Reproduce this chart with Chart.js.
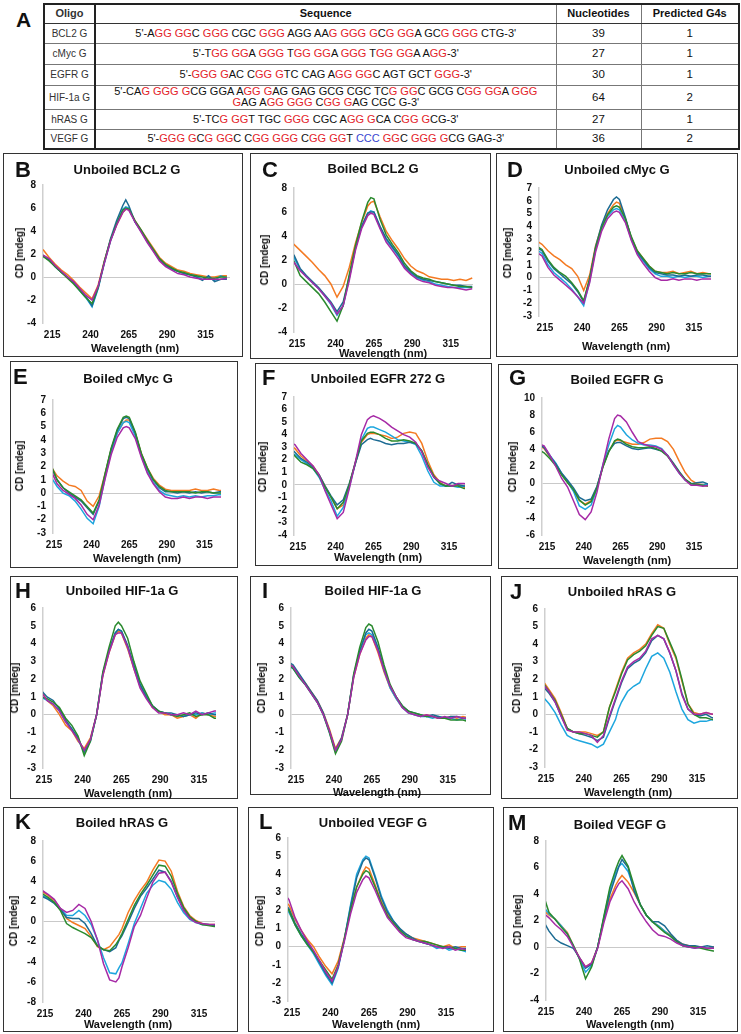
<!DOCTYPE html>
<html><head><meta charset="utf-8">
<script src="https://cdn.jsdelivr.net/npm/chart.js@4.4.1/dist/chart.umd.min.js"></script>
<style>
body{margin:0;width:741px;height:1034px;position:relative;background:#fff;font-family:"Liberation Sans",Arial,sans-serif;overflow:hidden}
.box{position:absolute;border:1.5px solid #333;box-sizing:border-box}
.cv{position:absolute}
.t{position:absolute;transform:translate(-50%,-50%);line-height:1;font-weight:bold;white-space:nowrap;color:#111}
.lt{position:absolute;transform:translate(0,-50%);line-height:1;font-weight:bold;font-size:22px;color:#111}
.yl{transform:translate(-50%,-50%) rotate(-90deg);font-size:10px}
.xl{font-size:11px}
.ti{font-size:13px}
#tbl{position:absolute;left:43px;top:3px;width:695px;border-collapse:collapse;table-layout:fixed;border:2px solid #222}
#tbl td,#tbl th{border:1px solid #777;padding:0;text-align:center;font-size:11px;color:#111;line-height:11px;white-space:nowrap}
#tbl th{font-weight:bold;font-size:11px;border-bottom:1.5px solid #333}
#tbl td:first-child,#tbl th:first-child{border-right:2px solid #222;color:#333}
#tbl td:first-child{font-size:10px}
#tbl td.n{font-size:11.5px}
.r{color:#E3232A}.bl{color:#3A45D0}
</style></head><body>
<div class="lt" style="left:16px;top:19px;font-size:21px">A</div>
<table id="tbl">
<colgroup><col style="width:51px"><col style="width:461px"><col style="width:85px"><col style="width:98px"></colgroup>
<tr style="height:19px"><th>Oligo</th><th>Sequence</th><th>Nucleotides</th><th>Predicted G4s</th></tr>
<tr style="height:20px"><td>BCL2 G</td><td>5'-A<span class="r">GG GG</span>C <span class="r">GGG</span> CGC <span class="r">GGG</span> AGG AA<span class="r">G GGG G</span>C<span class="r">G GG</span>A GC<span class="r">G GGG</span> CTG-3'</td><td class="n">39</td><td class="n">1</td></tr>
<tr style="height:21px"><td>cMyc G</td><td>5'-T<span class="r">GG GG</span>A <span class="r">GGG</span> T<span class="r">GG GG</span>A <span class="r">GGG</span> T<span class="r">GG GG</span>A A<span class="r">GG</span>-3'</td><td class="n">27</td><td class="n">1</td></tr>
<tr style="height:21px"><td>EGFR G</td><td>5'-<span class="r">GGG G</span>AC C<span class="r">GG G</span>TC CAG A<span class="r">GG GG</span>C AGT GCT <span class="r">GGG</span>-3'</td><td class="n">30</td><td class="n">1</td></tr>
<tr style="height:24px"><td>HIF-1a G</td><td>5'-CA<span class="r">G GGG G</span>CG GGA A<span class="r">GG G</span>AG GAG GCG CGC TC<span class="r">G GG</span>C GCG C<span class="r">GG GG</span>A <span class="r">GGG</span><br><span class="r">G</span>AG A<span class="r">GG GGG</span> C<span class="r">GG G</span>AG CGC G-3'</td><td class="n">64</td><td class="n">2</td></tr>
<tr style="height:20px"><td>hRAS G</td><td>5'-TC<span class="r">G GG</span>T TGC <span class="r">GGG</span> CGC A<span class="r">GG G</span>CA C<span class="r">GG G</span>CG-3'</td><td class="n">27</td><td class="n">1</td></tr>
<tr style="height:20px"><td>VEGF G</td><td>5'-<span class="r">GGG G</span>C<span class="r">G GG</span>C C<span class="r">GG GGG</span> C<span class="r">GG GG</span>T <span class="bl">CCC</span> <span class="r">GG</span>C <span class="r">GGG G</span>CG GAG-3'</td><td class="n">36</td><td class="n">2</td></tr>
</table>
<div id="root"></div>
<script>
// ---------- DATA ----------
const wavelengths = [209,213,217,221,225,229,233,237,241,245,249,253,257,261,263,265,269,273,277,281,285,289,293,297,301,305,309,313,317,321,325,329];
const xTickValues = [215,240,265,290,315];
const seriesNames = ['orange','teal','green','cyan','magenta'];

// B: Unboiled BCL2 G
const B_orange  = [2.4,1.7,1.1,0.6,0.2,-0.3,-0.9,-1.4,-1.9,-0.7,1.4,3.2,4.5,5.6,5.9,5.9,4.9,4.1,3.3,2.5,1.7,1.2,0.9,0.6,0.5,0.3,0.2,0.1,0.0,0.0,0.1,0.1];
const B_teal    = [1.9,1.5,0.9,0.4,0.0,-0.5,-1.1,-1.7,-2.5,-0.9,1.3,3.3,4.9,6.2,6.7,6.2,4.8,4.0,3.1,2.3,1.5,1.0,0.7,0.5,0.3,0.2,0.0,-0.3,0.1,-0.4,-0.2,-0.2];
const B_green   = [1.8,1.4,0.9,0.4,-0.1,-0.6,-1.2,-1.8,-2.3,-0.9,1.3,3.2,4.6,5.8,6.0,5.9,4.9,4.1,3.2,2.4,1.6,1.1,0.8,0.5,0.4,0.2,0.1,0.0,-0.1,-0.1,0.0,0.0];
const B_cyan    = [1.8,1.5,0.9,0.4,0.0,-0.5,-1.2,-1.8,-2.6,-1.0,1.2,3.1,4.6,5.9,6.1,6.0,4.8,4.0,3.1,2.3,1.5,1.0,0.7,0.5,0.3,0.2,0.1,-0.2,0.0,-0.3,0.1,-0.1];
const B_magenta = [1.9,1.6,1.0,0.5,0.0,-0.4,-1.0,-1.6,-2.0,-0.8,1.2,3.1,4.5,5.6,5.9,5.8,4.8,3.9,3.0,2.2,1.4,0.9,0.6,0.3,0.2,0.0,-0.1,-0.2,-0.2,-0.2,-0.2,-0.1];

// C: Boiled BCL2 G
const C_orange  = [3.6,3.3,2.8,2.3,1.8,1.2,0.7,0.0,-1.1,-0.2,1.4,3.4,5.1,6.5,6.8,6.9,5.6,4.4,3.6,2.9,2.1,1.5,1.1,0.9,0.6,0.5,0.4,0.4,0.3,0.4,0.3,0.5];
const C_teal    = [2.6,2.4,1.3,0.7,0.2,-0.3,-0.9,-1.5,-2.3,-1.5,0.6,3.0,4.8,5.9,6.0,6.0,4.8,3.8,3.1,2.4,1.5,1.0,0.6,0.4,0.3,0.2,0.1,0.0,-0.1,-0.1,-0.2,-0.2];
const C_green   = [2.0,1.9,0.7,0.2,-0.3,-0.8,-1.5,-2.3,-3.1,-1.8,0.8,3.2,5.2,6.8,7.2,7.1,5.4,4.1,3.3,2.6,1.7,1.1,0.7,0.5,0.4,0.2,0.1,0.0,-0.1,-0.2,-0.2,-0.3];
const C_cyan    = [2.4,2.2,1.2,0.6,0.1,-0.4,-1.0,-1.7,-2.6,-1.8,0.5,3.0,4.8,5.9,6.1,6.0,4.7,3.7,3.0,2.3,1.4,0.9,0.5,0.3,0.2,0.0,-0.1,-0.2,-0.3,-0.3,-0.3,-0.3];
const C_magenta = [2.0,1.8,1.1,0.6,0.1,-0.4,-1.0,-1.6,-2.5,-1.8,0.3,2.8,4.6,5.7,5.9,5.8,4.6,3.5,2.8,2.1,1.3,0.8,0.4,0.2,0.1,-0.1,-0.2,-0.3,-0.3,-0.4,-0.5,-0.4];

// D: Unboiled cMyc G
const D_orange  = [2.9,2.6,2.1,1.7,1.4,1.0,0.7,0.1,-1.0,0.2,2.5,4.0,5.0,5.7,5.9,5.8,4.6,3.1,2.1,1.5,0.9,0.5,0.4,0.4,0.5,0.3,0.4,0.5,0.3,0.4,0.3,0.3];
const D_teal    = [2.4,2.1,1.3,0.7,0.3,-0.1,-0.5,-1.1,-1.9,-0.1,2.4,4.1,5.3,6.1,6.3,6.1,4.7,3.1,2.0,1.4,0.8,0.4,0.3,0.2,0.2,0.1,0.2,0.1,0.2,0.2,0.1,0.1];
const D_green   = [2.5,2.2,1.4,0.8,0.4,0.1,-0.4,-1.0,-1.8,-0.1,2.3,3.9,4.9,5.5,5.6,5.5,4.6,3.2,2.1,1.5,0.9,0.5,0.4,0.3,0.4,0.3,0.3,0.4,0.3,0.3,0.3,0.3];
const D_cyan    = [2.2,1.9,1.0,0.4,0.0,-0.4,-0.9,-1.5,-2.2,-0.3,2.2,3.8,4.8,5.3,5.4,5.3,4.4,3.0,1.9,1.3,0.7,0.3,0.1,0.1,0.0,0.1,0.0,0.1,0.1,0.0,0.1,0.1];
const D_magenta = [2.0,1.7,0.8,0.2,-0.2,-0.6,-1.0,-1.5,-2.0,-0.4,2.0,3.6,4.6,5.1,5.2,5.1,4.3,2.9,1.8,1.1,0.5,0.0,-0.2,-0.2,-0.1,-0.2,-0.1,-0.1,-0.2,-0.1,-0.1,-0.1];

// E: Boiled cMyc G
const E_orange  = [2.2,2.0,1.3,0.9,0.6,0.5,0.2,-0.6,-1.0,-0.2,1.5,3.3,4.5,5.3,5.5,5.5,4.5,3.0,1.9,1.1,0.6,0.3,0.2,0.2,0.2,0.2,0.3,0.2,0.2,0.3,0.2,0.2];
const E_teal    = [2.2,2.0,1.0,0.4,0.0,-0.3,-0.6,-1.1,-1.6,-0.6,1.4,3.3,4.7,5.6,5.7,5.6,4.5,2.9,1.8,1.0,0.4,0.1,0.1,0.0,0.1,0.0,0.1,0.0,0.1,0.0,0.1,0.1];
const E_green   = [2.3,2.1,1.0,0.4,0.1,-0.2,-0.5,-1.0,-1.5,-0.5,1.5,3.4,4.8,5.7,5.8,5.7,4.6,3.0,1.9,1.0,0.5,0.2,0.1,0.1,0.1,0.1,0.0,0.1,0.1,0.0,0.0,0.0];
const E_cyan    = [1.5,1.2,0.5,0.0,-0.2,-0.6,-1.2,-1.9,-2.3,-1.0,1.2,3.1,4.5,5.3,5.4,5.3,4.3,2.8,1.6,0.8,0.2,-0.1,-0.2,-0.3,-0.2,-0.3,-0.2,-0.3,-0.2,-0.2,-0.1,-0.2];
const E_magenta = [1.9,1.7,0.7,0.2,-0.1,-0.4,-0.9,-1.6,-2.0,-0.9,1.1,2.9,4.2,4.9,5.0,4.9,4.1,2.7,1.5,0.7,0.1,-0.3,-0.4,-0.4,-0.3,-0.4,-0.3,-0.3,-0.4,-0.3,-0.3,-0.3];

// F: Unboiled EGFR 272 G
const F_orange  = [3.2,2.9,2.3,1.9,1.5,0.8,-0.1,-1.0,-1.9,-1.6,0.0,1.7,3.4,4.0,4.1,4.1,4.0,3.9,3.7,3.8,4.1,4.2,4.1,3.3,1.9,0.8,0.2,-0.1,-0.1,0.0,-0.2,-0.2];
const F_teal    = [3.0,2.6,2.1,1.8,1.4,0.8,-0.1,-0.9,-1.6,-1.2,0.1,1.7,3.2,3.6,3.7,3.6,3.5,3.3,3.2,3.3,3.3,3.4,3.3,2.7,1.6,0.6,0.1,-0.1,0.2,0.0,-0.1,-0.1];
const F_green   = [2.8,2.3,1.8,1.6,1.3,0.7,-0.2,-1.0,-1.9,-1.4,0.0,1.8,3.5,4.1,4.2,4.2,4.0,3.7,3.5,3.5,3.6,3.5,3.3,2.7,1.6,0.7,0.1,-0.1,-0.1,-0.1,-0.3,-0.3];
const F_cyan    = [2.6,2.4,2.0,1.7,1.3,0.6,-0.4,-1.3,-2.5,-1.8,-0.2,1.7,3.6,4.5,4.6,4.6,4.4,4.2,3.9,3.6,3.5,3.4,3.2,2.3,1.1,0.2,-0.1,-0.1,-0.1,-0.2,-0.1,-0.2];
const F_magenta = [3.4,3.2,2.5,2.0,1.5,0.8,-0.5,-1.6,-2.7,-2.2,-0.3,1.8,4.0,5.2,5.4,5.5,5.3,5.0,4.6,4.3,4.0,3.8,3.4,2.6,1.4,0.6,0.3,0.1,-0.1,0.1,0.1,0.0];

// G: Boiled EGFR G
const G_orange  = [4.6,4.1,3.1,2.3,1.1,0.2,-0.8,-2.0,-2.4,-2.0,-0.4,2.0,3.8,4.9,5.1,5.0,4.8,4.6,4.6,4.8,5.2,5.3,5.3,4.9,4.0,2.6,1.3,0.4,0.0,-0.2,-0.3,-0.2];
const G_teal    = [4.6,4.2,3.2,2.3,1.2,0.4,-0.5,-1.6,-2.0,-1.8,-0.3,2.0,3.8,4.7,4.8,4.8,4.4,4.1,4.0,4.1,4.2,4.0,3.8,3.3,2.4,1.4,0.5,0.0,0.1,0.2,-0.1,0.0];
const G_green   = [4.0,3.6,2.9,2.1,1.0,0.1,-0.7,-1.9,-2.5,-2.1,-0.5,1.9,3.7,5.0,5.2,5.1,4.6,4.3,4.2,4.2,4.3,4.1,3.8,3.2,2.3,1.3,0.5,0.0,-0.1,-0.2,-0.3,-0.3];
const G_cyan    = [4.6,4.3,3.3,2.4,1.2,0.2,-0.9,-2.6,-3.0,-2.5,-0.6,2.2,4.5,6.4,6.8,6.6,5.7,5.1,4.7,4.5,4.5,4.4,4.1,3.3,2.2,1.2,0.4,0.0,-0.2,-0.2,0.0,0.1];
const G_magenta = [4.7,4.4,3.3,2.0,0.6,-0.4,-2.0,-3.6,-4.2,-3.3,-1.0,2.2,5.2,7.6,8.0,7.9,7.2,6.0,4.9,4.6,4.4,4.3,4.0,3.3,2.2,1.2,0.4,-0.2,-0.2,-0.3,-0.2,-0.2];

// H: Unboiled HIF-1a G
const H_orange  = [1.6,1.4,0.8,0.5,0.0,-0.6,-0.9,-1.5,-1.9,-1.3,0.0,2.2,3.5,4.5,4.7,4.6,3.7,2.6,1.6,1.0,0.4,0.2,0.0,0.0,-0.2,-0.1,0.0,-0.2,0.1,0.0,-0.1,-0.1];
const H_teal    = [1.6,1.4,1.0,0.8,0.3,-0.3,-0.8,-1.3,-2.1,-1.4,0.0,2.3,3.6,4.6,4.8,4.7,3.9,2.8,1.7,1.0,0.5,0.2,0.1,0.1,0.0,-0.1,0.0,0.1,0.0,0.1,0.0,0.0];
const H_green   = [1.2,1.0,0.9,0.7,0.4,-0.2,-0.6,-1.2,-2.3,-1.5,0.0,2.4,3.8,5.0,5.2,5.0,4.3,3.0,1.9,1.2,0.5,0.2,0.1,0.0,-0.1,0.0,0.1,-0.1,0.0,0.0,-0.2,-0.2];
const H_cyan    = [1.2,1.0,0.8,0.6,0.2,-0.4,-0.8,-1.4,-2.1,-1.5,0.0,2.3,3.6,4.6,4.8,4.7,3.8,2.7,1.7,1.1,0.5,0.2,0.1,0.0,0.0,-0.1,0.0,0.0,0.1,0.0,0.1,0.1];
const H_magenta = [1.5,1.3,0.8,0.6,0.2,-0.4,-0.9,-1.4,-2.0,-1.4,0.0,2.2,3.5,4.5,4.6,4.6,3.8,2.6,1.5,0.9,0.4,0.1,0.1,0.0,0.0,0.1,0.0,0.2,0.0,0.1,0.2,0.2];

// I: Boiled HIF-1a G
const I_orange  = [3.0,2.7,2.2,1.8,1.3,0.8,0.1,-0.8,-1.9,-1.3,0.0,2.1,3.4,4.3,4.5,4.4,3.5,2.4,1.5,0.9,0.4,0.2,0.0,-0.1,0.0,-0.1,-0.2,-0.2,-0.1,-0.2,-0.1,-0.2];
const I_teal    = [3.0,2.8,2.3,1.8,1.3,0.8,0.1,-0.9,-2.0,-1.3,0.0,2.2,3.6,4.6,4.8,4.7,3.8,2.6,1.6,1.0,0.5,0.2,0.1,0.0,-0.1,0.0,-0.1,-0.2,-0.1,-0.1,-0.2,-0.2];
const I_green   = [2.9,2.6,2.1,1.7,1.2,0.7,0.0,-1.0,-2.2,-1.5,0.0,2.3,3.8,4.9,5.1,5.0,4.1,2.8,1.7,1.0,0.5,0.2,0.1,0.0,-0.1,-0.1,-0.2,-0.2,-0.3,-0.3,-0.3,-0.4];
const I_cyan    = [2.8,2.6,2.1,1.7,1.2,0.7,0.0,-1.0,-2.1,-1.4,0.0,2.2,3.6,4.5,4.6,4.5,3.7,2.5,1.5,0.9,0.4,0.1,0.0,-0.1,-0.1,-0.2,-0.1,-0.2,-0.2,-0.3,-0.2,-0.3];
const I_magenta = [2.9,2.7,2.2,1.7,1.2,0.7,0.0,-0.9,-2.0,-1.4,0.0,2.1,3.4,4.2,4.4,4.4,3.6,2.5,1.6,1.0,0.4,0.1,0.0,-0.1,0.0,-0.1,-0.2,-0.1,-0.2,-0.1,-0.2,-0.2];

// J: Unboiled hRAS G
const J_orange  = [2.0,1.9,1.4,0.9,0.1,-0.8,-1.0,-1.0,-1.0,-1.1,-1.2,-1.0,0.4,1.4,1.9,2.4,3.2,3.5,3.7,4.0,4.6,5.1,4.9,4.0,3.2,1.9,0.6,0.1,0.0,0.1,0.0,0.0];
const J_teal    = [1.7,1.6,1.2,0.7,-0.1,-0.8,-1.0,-1.1,-1.2,-1.3,-1.5,-1.3,-0.2,0.8,1.3,1.8,2.6,2.9,3.1,3.5,4.2,4.5,4.3,3.5,2.5,1.2,0.3,0.0,-0.1,0.0,-0.2,-0.2];
const J_green   = [1.9,1.8,1.3,0.8,0.0,-0.8,-1.0,-1.1,-1.1,-1.2,-1.3,-1.0,0.4,1.3,1.8,2.3,3.1,3.4,3.6,3.9,4.5,5.0,4.9,4.1,3.3,2.0,0.6,0.0,-0.2,-0.2,-0.3,-0.3];
const J_cyan    = [1.1,1.0,0.6,0.1,-0.6,-1.2,-1.4,-1.5,-1.6,-1.7,-1.9,-1.7,-1.0,-0.3,0.3,0.7,1.3,1.6,1.8,2.6,3.3,3.5,3.2,2.4,1.3,0.3,-0.3,-0.5,-0.4,-0.4,-0.3,-0.4];
const J_magenta = [1.8,1.7,1.3,0.7,-0.1,-0.9,-1.0,-1.0,-1.1,-1.2,-1.6,-1.2,-0.1,0.9,1.4,1.9,2.7,3.0,3.2,3.6,4.3,4.5,4.3,3.5,2.5,1.1,0.3,0.0,0.0,0.1,0.0,0.1];

// K: Boiled hRAS G
const K_orange  = [3.2,3.0,2.6,2.1,1.3,0.3,-0.1,-0.4,-0.7,-1.5,-2.5,-2.8,-2.5,-1.7,-1.3,-0.7,0.9,2.1,3.1,3.9,5.1,6.1,6.0,5.0,3.0,1.5,0.6,0.1,-0.2,-0.3,-0.3,-0.3];
const K_teal    = [2.6,2.5,2.2,1.8,1.2,0.4,0.3,0.3,-0.2,-1.2,-2.4,-2.8,-3.0,-2.6,-1.9,-1.4,-0.1,1.3,2.5,3.3,4.2,5.1,4.9,4.0,2.5,1.2,0.4,0.0,-0.3,-0.3,-0.4,-0.4];
const K_green   = [3.0,2.8,2.4,1.9,1.1,-0.2,-0.6,-0.9,-1.2,-1.6,-2.4,-2.8,-2.9,-2.3,-1.8,-1.2,0.2,1.6,2.7,3.6,4.6,5.6,5.5,4.5,2.8,1.4,0.5,0.0,-0.3,-0.4,-0.5,-0.5];
const K_cyan    = [2.7,2.6,2.3,1.9,1.3,0.6,0.6,1.1,0.6,-0.3,-1.8,-3.6,-5.1,-5.2,-4.6,-4.1,-2.2,-0.2,1.3,2.8,3.6,4.1,3.9,3.2,1.9,0.9,0.2,-0.1,-0.3,-0.3,-0.4,-0.4];
const K_magenta = [3.3,3.1,2.7,2.2,1.3,0.9,1.1,1.7,1.3,0.0,-1.8,-4.2,-5.8,-6.0,-5.6,-4.5,-2.6,-0.5,0.6,2.3,3.9,4.8,4.9,3.9,2.4,1.1,0.3,-0.1,-0.2,-0.3,-0.3,-0.4];

// L: Unboiled VEGF G
const L_orange  = [2.6,2.3,1.5,0.9,0.4,0.0,-0.6,-1.1,-1.5,-0.8,0.5,2.0,3.3,4.1,4.4,4.3,3.4,2.5,1.8,1.3,1.0,0.7,0.5,0.4,0.3,0.2,0.1,0.0,0.1,-0.1,0.0,0.0];
const L_teal    = [2.5,2.1,1.3,0.7,0.2,-0.3,-0.9,-1.5,-2.0,-1.1,0.4,2.2,3.8,4.7,4.9,4.8,3.8,2.7,1.9,1.4,1.0,0.7,0.5,0.3,0.2,0.1,0.0,0.0,-0.1,0.0,-0.1,-0.1];
const L_green   = [2.4,2.0,1.2,0.6,0.1,-0.3,-0.8,-1.3,-1.8,-1.0,0.4,2.0,3.3,4.0,4.2,4.1,3.3,2.4,1.7,1.3,0.9,0.6,0.4,0.3,0.3,0.2,0.1,0.0,0.0,-0.1,-0.2,-0.2];
const L_cyan    = [2.2,1.9,1.2,0.6,0.1,-0.4,-1.0,-1.6,-2.1,-1.2,0.4,2.3,4.0,4.8,5.0,4.9,3.9,2.8,2.0,1.4,1.0,0.7,0.4,0.3,0.2,0.1,-0.1,0.0,-0.2,-0.1,-0.2,-0.3];
const L_magenta = [3.0,2.6,1.6,0.9,0.3,-0.2,-0.8,-1.4,-1.9,-1.1,0.3,1.8,3.0,3.7,3.9,3.8,3.1,2.3,1.6,1.2,0.8,0.5,0.4,0.3,0.2,0.1,0.0,-0.1,0.0,-0.2,-0.1,-0.2];

// M: Boiled VEGF G
const M_orange  = [2.8,2.8,2.4,2.1,1.6,1.1,0.1,-0.8,-1.5,-1.2,0.0,2.0,3.6,4.7,5.1,5.4,4.9,4.1,3.2,2.4,1.9,1.6,1.2,0.9,0.5,0.2,0.1,0.0,0.0,-0.1,0.0,0.0];
const M_teal    = [2.0,2.0,1.2,0.6,0.3,0.1,-0.1,-0.8,-1.6,-1.3,0.0,2.1,4.0,5.4,6.1,6.6,6.0,4.2,3.2,2.4,1.9,1.9,1.6,1.0,0.5,0.2,0.1,0.1,0.0,0.1,0.0,0.0];
const M_green   = [4.0,4.0,2.6,2.1,1.5,1.0,0.1,-0.9,-2.4,-1.5,0.0,2.3,4.5,5.9,6.5,6.9,6.1,4.6,3.2,2.4,1.9,1.5,1.1,0.8,0.4,0.1,0.0,0.0,-0.1,-0.2,-0.3,-0.3];
const M_cyan    = [3.1,3.1,2.5,2.1,1.6,1.0,0.1,-0.9,-1.9,-1.4,0.0,2.2,4.3,5.7,6.1,6.3,5.7,4.4,3.2,2.4,1.9,1.6,1.2,0.8,0.4,0.1,0.0,-0.1,0.0,-0.1,-0.1,-0.1];
const M_magenta = [2.6,2.6,2.2,1.7,1.3,0.8,0.0,-0.8,-1.5,-1.2,-0.1,1.8,3.4,4.4,4.8,5.0,4.4,3.4,2.6,1.9,1.3,0.9,0.8,0.6,0.3,0.1,0.0,-0.1,0.0,-0.1,-0.1,-0.1];

const panelLetters = ['B','C','D','E','F','G','H','I','J','K','L','M'];
const panelTitles = ['Unboiled BCL2 G','Boiled BCL2 G','Unboiled cMyc G','Boiled cMyc G','Unboiled EGFR 272 G','Boiled EGFR G','Unboiled HIF-1a G','Boiled HIF-1a G','Unboiled hRAS G','Boiled hRAS G','Unboiled VEGF G','Boiled VEGF G'];
const yMin  = [-4,-4,-3,-3,-4,-6,-3,-3,-3,-8,-3,-4];
const yMax  = [8,8,7,7,7,10,6,6,6,8,6,8];
const yStep = [2,2,1,1,1,2,1,1,1,2,1,2];
const yAxisTitle = 'CD [mdeg]';
const xAxisTitle = 'Wavelength (nm)';
const panelSeries = [
  [B_orange,B_teal,B_green,B_cyan,B_magenta],
  [C_orange,C_teal,C_green,C_cyan,C_magenta],
  [D_orange,D_teal,D_green,D_cyan,D_magenta],
  [E_orange,E_teal,E_green,E_cyan,E_magenta],
  [F_orange,F_teal,F_green,F_cyan,F_magenta],
  [G_orange,G_teal,G_green,G_cyan,G_magenta],
  [H_orange,H_teal,H_green,H_cyan,H_magenta],
  [I_orange,I_teal,I_green,I_cyan,I_magenta],
  [J_orange,J_teal,J_green,J_cyan,J_magenta],
  [K_orange,K_teal,K_green,K_cyan,K_magenta],
  [L_orange,L_teal,L_green,L_cyan,L_magenta],
  [M_orange,M_teal,M_green,M_cyan,M_magenta]
];

// ---------- LAYOUT / STYLE ----------
const seriesColors = {orange:'#F47A22', teal:'#1C6B93', green:'#2A8A2E', cyan:'#1DA6DE', magenta:'#A62AA6'};
const drawOrder = [4,2,1,3,0]; // magenta on top
const layout = [
  {box:[3,153,243,357],   area:[43,185,230,323],   xr:[209,331],     lt:[15,170],  ti:[127,169], yt:[20,253],  xt:[135,348]},
  {box:[250,153,491,359], area:[294,188,473,332],  xr:[213,329.5],   lt:[262,170], ti:[373,168], yt:[265,260], xt:[383,353]},
  {box:[496,153,738,357], area:[539,188,711,316],  xr:[211,326.5],   lt:[507,170], ti:[617,169], yt:[508,253], xt:[626,346]},
  {box:[10,361,238,568],  area:[53,400,221,533],   xr:[214.3,326],   lt:[13,377],  ti:[128,378], yt:[20,466],  xt:[137,558]},
  {box:[255,363,492,566], area:[294,397,465,535],  xr:[212.4,325.6], lt:[262,378], ti:[378,378], yt:[263,467], xt:[378,557]},
  {box:[498,364,738,569], area:[542,398,708,535],  xr:[211.6,324.5], lt:[509,378], ti:[617,379], yt:[513,467], xt:[627,560]},
  {box:[10,576,238,799],  area:[43,608,216,768],   xr:[214.4,326],   lt:[15,591],  ti:[122,590], yt:[15,688],  xt:[128,793]},
  {box:[250,576,491,795], area:[291,608,466,768],  xr:[211.7,327],   lt:[262,591], ti:[373,590], yt:[262,688], xt:[377,792]},
  {box:[501,576,738,799], area:[545,609,713,767],  xr:[214.3,325.6], lt:[510,592], ti:[622,591], yt:[517,688], xt:[628,792]},
  {box:[3,807,238,1032],  area:[43,841,215,1002],  xr:[213.7,325.4], lt:[15,822],  ti:[122,822], yt:[14,921],  xt:[128,1024]},
  {box:[248,807,494,1032],area:[288,838,466,1001], xr:[212.4,328],   lt:[259,822], ti:[373,822], yt:[260,921], xt:[376,1024]},
  {box:[503,807,738,1032],area:[546,841,714,1000], xr:[215,325.5],   lt:[508,823], ti:[620,824], yt:[518,920], xt:[630,1024]}
];
const YW = 18, XH = 18;
const FONT = '"Liberation Sans", Arial, sans-serif';
Chart.defaults.font.family = FONT;

const root = document.getElementById('root');
function addText(cls, txt, x, y) {
  const d = document.createElement('div');
  d.className = cls; d.textContent = txt;
  d.style.left = x + 'px'; d.style.top = y + 'px';
  root.appendChild(d);
}

layout.forEach((L, i) => {
  const [bl, bt, br, bb] = L.box;
  const [al, at, ar, ab] = L.area;
  const w = br - bl, h = bb - bt;
  const box = document.createElement('div');
  box.className = 'box';
  box.style.cssText = `left:${bl}px;top:${bt}px;width:${w}px;height:${h}px`;
  root.appendChild(box);

  const cv = document.createElement('canvas');
  cv.className = 'cv';
  cv.width = w; cv.height = h;
  cv.style.cssText = `left:${bl}px;top:${bt}px;width:${w}px;height:${h}px`;
  root.appendChild(cv);

  const series = panelSeries[i];
  const datasets = drawOrder.map(k => ({
    label: seriesNames[k],
    data: wavelengths.map((x, j) => ({x: x, y: series[k][j]})),
    borderColor: seriesColors[seriesNames[k]],
    borderWidth: 1.5,
    pointRadius: 0,
    tension: 0,
    fill: false
  }));

  new Chart(cv, {
    type: 'line',
    data: {datasets},
    options: {
      responsive: false, animation: false, devicePixelRatio: 1,
      layout: {padding: {left: al - bl - YW, top: at - bt, right: br - ar, bottom: bb - ab - XH}},
      plugins: {legend: {display: false}, title: {display: false}, tooltip: {enabled: false}},
      scales: {
        x: {
          type: 'linear', min: L.xr[0], max: L.xr[1],
          afterBuildTicks: s => { s.ticks = xTickValues.map(v => ({value: v})); },
          afterFit: s => { s.height = XH; },
          grid: {display: false, drawTicks: false},
          border: {display: false},
          ticks: {padding: 6, autoSkip: false, maxRotation: 0, color: '#111', font: {size: 10, weight: 'bold', family: FONT}}
        },
        y: {
          min: yMin[i], max: yMax[i],
          afterFit: s => { s.width = YW; },
          ticks: {stepSize: yStep[i], autoSkip: false, padding: 7, color: '#111', font: {size: 10, weight: 'bold', family: FONT}},
          grid: {drawTicks: false, lineWidth: 1, color: c => (c.tick && c.tick.value === 0) ? '#C9C9C9' : 'rgba(0,0,0,0)'},
          border: {display: true, color: '#CFCFCF', width: 1.5}
        }
      }
    }
  });

  addText('lt', panelLetters[i], L.lt[0], L.lt[1]);
  addText('t ti', panelTitles[i], L.ti[0], L.ti[1]);
  addText('t yl', yAxisTitle, L.yt[0], L.yt[1]);
  addText('t xl', xAxisTitle, L.xt[0], L.xt[1]);
});
</script>
</body></html>
